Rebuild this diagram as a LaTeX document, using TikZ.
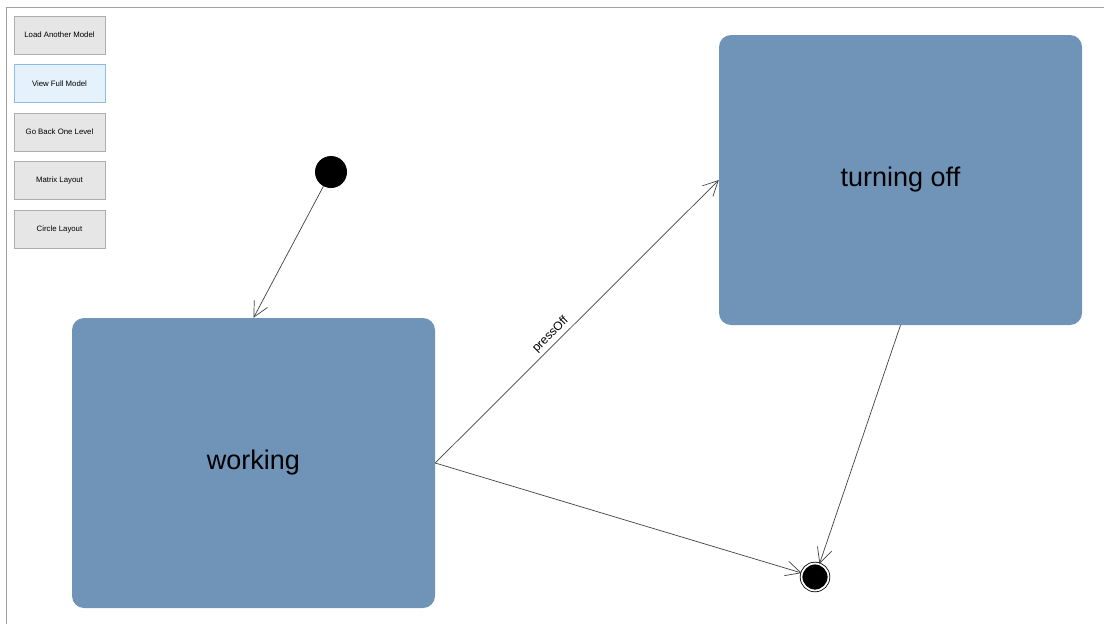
\documentclass[tikz,border=0pt]{standalone}
\usepackage{fontspec}
\setmainfont{Liberation Sans}
\usetikzlibrary{shapes,arrows.meta}
\definecolor{statefill}{HTML}{7094B8}
\definecolor{btnfill}{HTML}{E6E6E6}
\definecolor{btnline}{HTML}{ADADAD}
\definecolor{selfill}{HTML}{E5F1FB}
\definecolor{selline}{HTML}{8CBCEC}
\definecolor{linegray}{HTML}{404040}
\definecolor{framegray}{HTML}{A0A0A0}
\tikzstyle{button} = [rectangle, draw=btnline, fill=btnfill, minimum width=91pt, minimum height=38pt, inner sep=0pt, font=\fontsize{7.8}{9}\selectfont, node distance=48.5pt]
\tikzstyle{state} = [rectangle, fill=statefill, rounded corners=12pt, minimum width=363pt, minimum height=290pt, font=\fontsize{27}{30}\selectfont]
\tikzstyle{initial} = [circle, fill=black, minimum size=32pt, inner sep=0pt]
\tikzstyle{final} = [circle, draw=black, fill=black, double=white, double distance=1.8pt, line width=0.8pt, minimum size=27pt, inner sep=0pt]
\tikzstyle{line} = [draw=linegray, line width=0.7pt, -{Straight Barb[length=15pt,width=15pt]}]
\begin{document}
\begin{tikzpicture}[x=1pt,y=-1pt]
\useasboundingbox (0,0) rectangle (1104,624);
\draw [framegray, line width=1pt] (6,624) -- (6,7) -- (1104,7);

% buttons
\node [button] (load) at (59.5,35) {Load Another Model};
\node [button, below of=load, draw=selline, fill=selfill] (full) {View Full Model};
\node [button, below of=full] (back) {Go Back One Level};
\node [button, below of=back] (matrix) {Matrix Layout};
\node [button, below of=matrix] (circ) {Circle Layout};

% states
\node [initial] (start) at (331,172) {};
\node [state] (working) at (253.5,463) {working};
\node [state] (toff) at (900.5,180) {turning off};
\node [final] (stop) at (815,577) {};

% arrows
\path [line] (start) -- (working.north);
\path [line] (working.east) -- node[pos=0.43, above, sloped, font=\fontsize{12}{14}\selectfont] {pressOff} (toff.west);
\path [line] (working.east) -- (stop);
\path [line] (toff.south) -- (stop);

\end{tikzpicture}
\end{document}
